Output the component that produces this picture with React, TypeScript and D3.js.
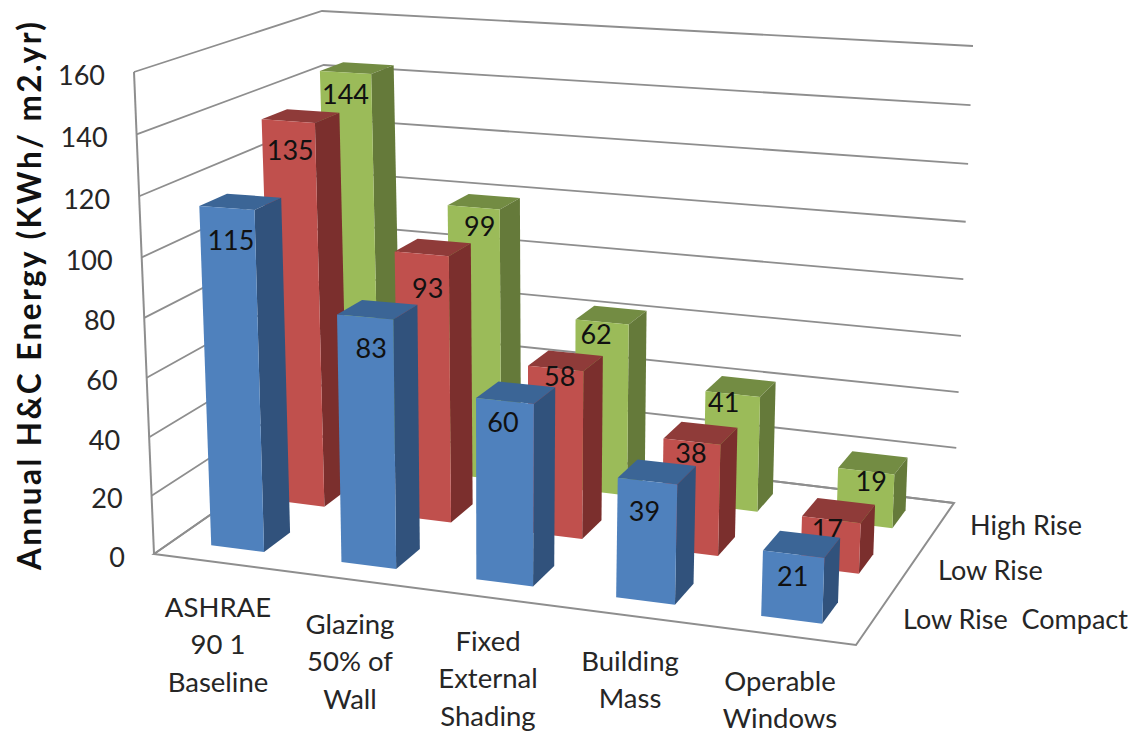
import React from "react";
import * as d3 from "d3";

const categories = [
  ["ASHRAE", "90 1", "Baseline"],
  ["Glazing", "50% of", "Wall"],
  ["Fixed", "External", "Shading"],
  ["Building", "Mass"],
  ["Operable", "Windows"],
];
const seriesNames = ["Low Rise  Compact", "Low Rise", "High Rise"];
const lowRiseCompact = [115, 83, 60, 39, 21];
const lowRise = [135, 93, 58, 38, 17];
const highRise = [144, 99, 62, 41, 19];
const seriesValues = [lowRiseCompact, lowRise, highRise];
const yTicks = [0, 20, 40, 60, 80, 100, 120, 140, 160];
const yTitle = "Annual H&C Energy (KWh/ m2.yr)";

const palette = [
  { front: "#4f81bd", side: "#31527c", top: "#3b6596" },
  { front: "#c0504d", side: "#7b2f2d", top: "#8f3b39" },
  { front: "#9bbb59", side: "#657a3a", top: "#738c43" },
];

type Pt = [number, number];
// wall / floor corners on the page
const floorC: Pt[] = [[154, 554], [856, 645], [954, 503], [335, 428]];
const topC: Pt[] = [[134, 72], [875, 114], [973, 46], [322, 11]];
// label placement relative to the front top edge of each bar
const labelDx = [[6, 8, 0, -1, 1], [4, 8, 6, 1, -2], [2, 8, -4, -7, 7]];
const labelDy = [[32, 30, 21, 29, 21], [28, 34, 7, 11, 9], [21, 18, 11, 7, 9]];

function homography(q: Pt[]) {
  const [[x0, y0], [x1, y1], [x2, y2], [x3, y3]] = q;
  const dx1 = x1 - x2, dx2 = x3 - x2, sx = x0 - x1 + x2 - x3;
  const dy1 = y1 - y2, dy2 = y3 - y2, sy = y0 - y1 + y2 - y3;
  const den = dx1 * dy2 - dx2 * dy1;
  const g = (sx * dy2 - dx2 * sy) / den;
  const h = (dx1 * sy - sx * dy1) / den;
  return (u: number, v: number): Pt => {
    const w = g * u + h * v + 1;
    return [
      ((x1 - x0 + g * x1) * u + (x3 - x0 + h * x3) * v + x0) / w,
      ((y1 - y0 + g * y1) * u + (y3 - y0 + h * y3) * v + y0) / w,
    ];
  };
}
const warp = (g: number) => (t: number) => (t * (1 + g)) / (1 + g * t);
const warpU = warp(-0.05);
const warpH = warp(-0.04);
const H0 = homography(floorC);
const H1 = homography(topC);
function project(u: number, v: number, h: number): Pt {
  const a = H0(u, v), b = H1(u, v), t = warpH(h);
  return [a[0] + (b[0] - a[0]) * t, a[1] + (b[1] - a[1]) * t];
}

const yScale = d3.scaleLinear().domain([0, 160]).range([0, 1]);
const catBand = d3.scaleBand<number>().domain(d3.range(5)).range([0, 1]).paddingInner(0.59).paddingOuter(0.295);
const serBand = d3.scaleBand<number>().domain(d3.range(3)).range([0, 1]).paddingInner(0.58).paddingOuter(0.29);

const catX = [218, 350, 488, 630, 780];
const catY = [606, 623, 640, 660, 680];
const serY = d3.scaleOrdinal<number, number>().domain([0, 1, 2]).range([618, 569, 524]);
const serX = d3.scaleOrdinal<number, number>().domain([0, 1, 2]).range([903, 938, 970]);

const line = d3.line();
const poly = (pts: Pt[]) => line(pts)! + "Z";
const font = "Lato, 'Open Sans', sans-serif";
const grid = "#8e8e8e";

export default function App() {
  const bars: React.ReactNode[] = [];
  [2, 1, 0].forEach((s) => {
    const v0 = serBand(s)!, v1 = v0 + serBand.bandwidth();
    seriesValues[s].forEach((val, c) => {
      const u0 = warpU(catBand(c)!), u1 = warpU(catBand(c)! + catBand.bandwidth());
      const h = yScale(val);
      const col = palette[s];
      bars.push(
        <g key={`${s}-${c}`}>
          <path d={poly([project(u0, v1, h), project(u1, v1, h), project(u1, v0, h), project(u0, v0, h)])} fill={col.top} />
          <path d={poly([project(u1, v0, 0), project(u1, v1, 0), project(u1, v1, h), project(u1, v0, h)])} fill={col.side} />
          <path d={poly([project(u0, v0, 0), project(u1, v0, 0), project(u1, v0, h), project(u0, v0, h)])} fill={col.front} />
          <text x={(project(u0, v0, h)[0] + project(u1, v0, h)[0]) / 2 + labelDx[s][c] - 2}
            y={(project(u0, v0, h)[1] + project(u1, v0, h)[1]) / 2 + labelDy[s][c]}
            textAnchor="middle" dominantBaseline="central" fontSize={27} fontFamily={font} fill="#111">{val}</text>
        </g>
      );
    });
  });
  return (
    <svg width={1138} height={733} style={{ position: "absolute", left: 0, top: 0, display: "block", background: "#fff" }}>
      <path d={poly([project(0, 0, 0), project(1, 0, 0), project(1, 1, 0), project(0, 1, 0)])} fill="none" stroke={grid} strokeWidth={2} />
      {yTicks.map((t) => {
        const h = yScale(t);
        return <path key={t} d={line([project(0, 0, h), project(0, 1, h), project(1, 1, h)])!} fill="none" stroke={grid} strokeWidth={1.8} />;
      })}
      <path d={line([project(0, 0, 0), project(0, 0, 1)])!} stroke={grid} strokeWidth={2} fill="none" />
      {bars}
      {yTicks.map((t) => {
        const p = project(0, 0, yScale(t));
        return <text key={t} x={p[0] - 29} y={p[1] + 2} textAnchor="end" dominantBaseline="central" fontSize={27} fontFamily={font} fill="#262626">{t}</text>;
      })}
      <text transform="translate(29,296) rotate(-90)" textAnchor="middle" dominantBaseline="central" fontSize={31.5} fontWeight={700} fontFamily={font} fill="#111" textLength={548}>{yTitle}</text>
      {categories.map((lines, c) => lines.map((l, i) => (
        <text key={l} x={catX[c]} y={catY[c] + i * 37.5} textAnchor="middle" dominantBaseline="central" fontSize={27.5} fontFamily={font} fill="#262626">{l}</text>
      )))}
      {seriesNames.map((n, s) => (
        <text key={n} x={serX(s)} y={serY(s)} dominantBaseline="central" fontSize={27} fontFamily={font} fill="#262626" xmlSpace="preserve" style={{ whiteSpace: "pre" }}>{n}</text>
      ))}
    </svg>
  );
}
